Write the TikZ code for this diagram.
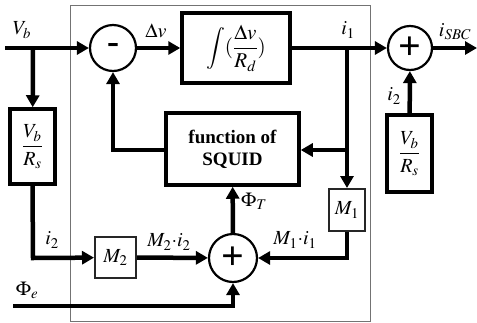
\documentclass[tikz,border=0pt]{standalone}
\usepackage{mathptmx}
\usepackage{fontspec}
\setmainfont{Liberation Serif}
\usetikzlibrary{arrows.meta, positioning, calc}

\begin{document}
\begin{tikzpicture}[
    x=1pt, y=-1pt,
    blk/.style={rectangle, draw=black, line width=3.5pt, fill=white, inner sep=0pt, minimum width=#1},
    sblk/.style={rectangle, draw=black!85, line width=2pt, fill=white, inner sep=0pt, minimum width=#1, font=\fontsize{20}{24}\selectfont},
    sum/.style={circle, draw=black, line width=2.2pt, fill=white, inner sep=0pt, minimum size=#1, font=\fontsize{40}{40}\selectfont\bfseries},
    arr/.style={-{Triangle[length=12pt, width=13pt]}, line width=4.5pt},
    wire/.style={line width=4.5pt},
    lbl/.style={font=\fontsize{20}{24}\selectfont}
]
    \useasboundingbox (0,0) rectangle (477,322);
    \draw[black!55, line width=1pt] (70,5) rectangle (370,321);
    % blocks
    \node[sum=46, font=\fontsize{36}{36}\selectfont\bfseries] (sub) at (113,48) {-};
    \node[blk=108, minimum height=70, font=\fontsize{21}{24}\selectfont] (integ) at (236,48) {$\displaystyle\int(\frac{\Delta v}{R_d})$};
    \node[sum=44] (addR) at (410,48) {+};
    \node[blk=45, minimum height=77, font=\fontsize{20}{24}\selectfont] (vbrsR) at (409.5,153.5) {$\displaystyle\frac{V_b}{R_s}$};
    \node[blk=45, minimum height=75, font=\fontsize{20}{24}\selectfont] (vbrsL) at (32.5,146.5) {$\displaystyle\frac{V_b}{R_s}$};
    \node[blk=133, minimum height=72, font=\fontsize{19}{22}\selectfont\bfseries, align=center] (squid) at (232.5,149) {function of\\SQUID};
    \node[sblk=36, minimum height=42] (mone) at (347,210) {$M_1$};
    \node[sblk=41, minimum height=41] (mtwo) at (115.5,257.5) {$M_2$};
    \node[sum=48] (addB) at (233,258) {+};
    % corners
    \coordinate (in) at (5,48);
    \coordinate (vbsplit) at (33,48);
    \coordinate (isplit) at (347,48);
    \coordinate (out) at (477,48);
    \coordinate (itwobend) at (33,258);
    \coordinate (phie) at (13,306);
    \coordinate (phibend) at (233,306);
    \coordinate (fbbend) at (113,150);
    \coordinate (isquid) at (347,150);
    \coordinate (monebend) at (347,258);
    % wires
    \draw[arr] (in) -- (sub);
    \draw[arr] (vbsplit) -- (vbrsL);
    \draw[arr] (sub) -- (integ);
    \draw[arr] (integ) -- (addR);
    \draw[arr] (addR) -- (out);
    \draw[arr] (vbrsR) -- (addR);
    \draw[arr] (vbrsL.south) -- (itwobend) -- (mtwo);
    \draw[arr] (mtwo) -- (addB);
    \draw[arr] (phie) -- (phibend) -- (addB);
    \draw[arr] (addB) -- (squid);
    \draw[arr] (squid.west |- fbbend) -- (fbbend) -- (sub);
    \draw[wire] (isplit) -- (isquid);
    \draw[arr] (isquid) -- (squid.east |- isquid);
    \draw[arr] (isquid) -- (mone);
    \draw[arr] (mone.south) -- (monebend) -- (addB);
    % labels
    \node[lbl] (lvb) at (22,30) {$V_b$};
    \node[lbl] (ldv) at (156,31) {$\Delta v$};
    \node[lbl] (lione) at (348,30) {$i_1$};
    \node[lbl] (lisbc) at (455,32) {$i_{SBC}$};
    \node[lbl] (litwoR) at (394,96) {$i_2$};
    \node[lbl] (litwoL) at (52,240) {$i_2$};
    \node[lbl] (lmtwo) at (169,242) {$M_2{\cdot}i_2$};
    \node[lbl] (lphit) at (254,201) {$\Phi_T$};
    \node[lbl] (lmone) at (295,240) {$M_1{\cdot}i_1$};
    \node[lbl] (lphie) at (27,290) {$\Phi_e$};
\end{tikzpicture}
\end{document}
